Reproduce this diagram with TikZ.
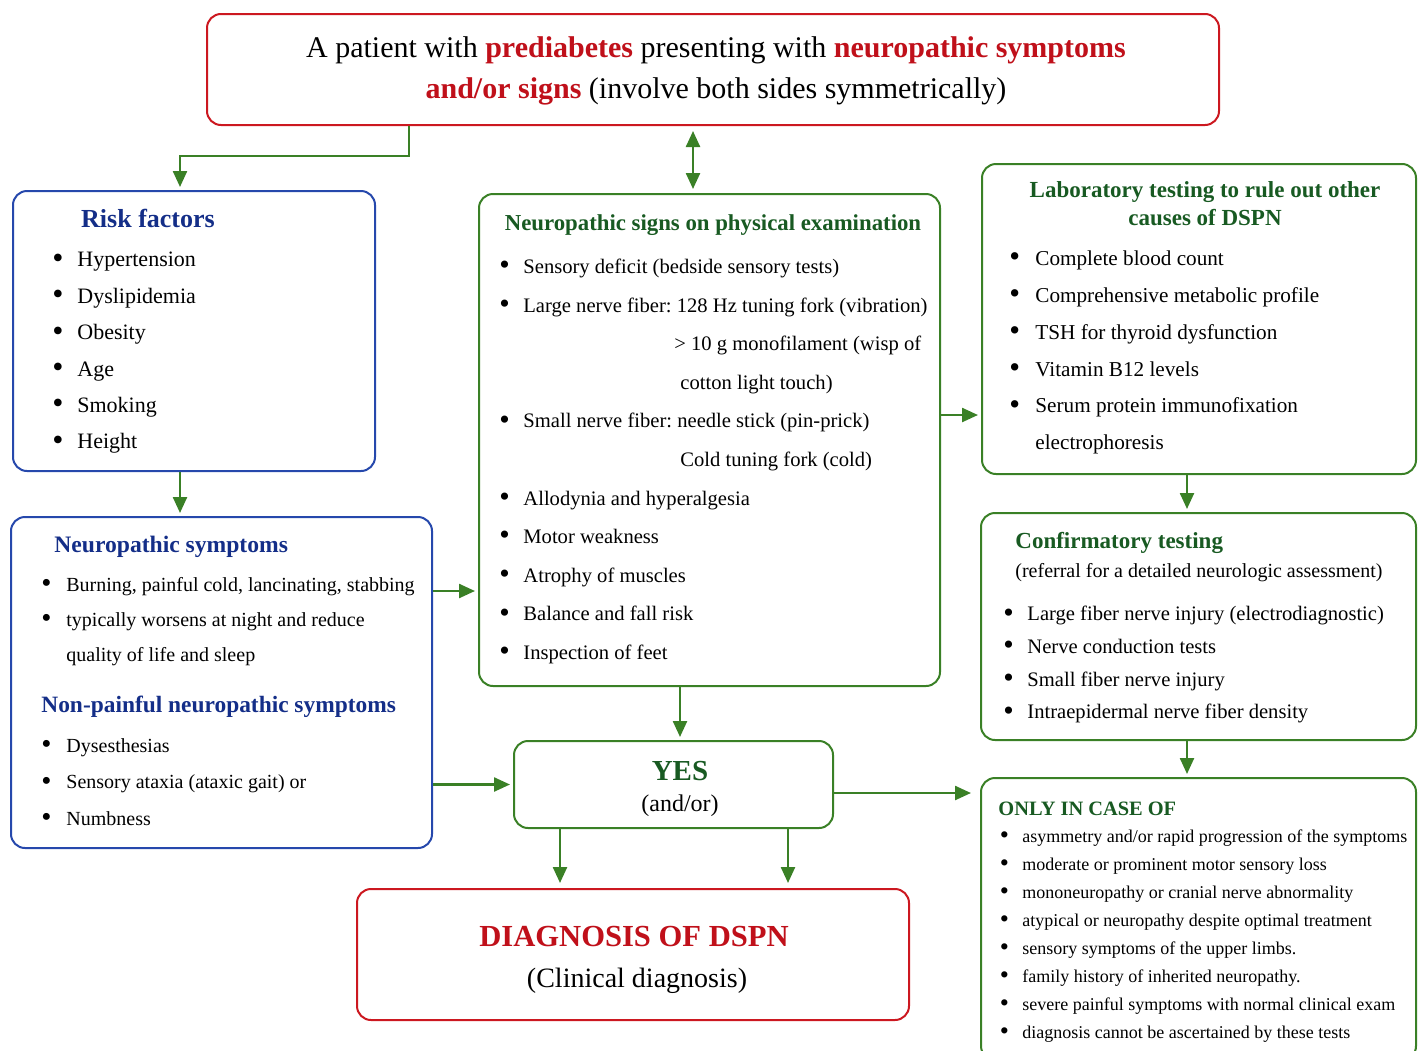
\documentclass[tikz,border=0pt]{standalone}
\usepackage{graphicx}
\usepackage{fontspec}
\setmainfont{Liberation Serif}
\usetikzlibrary{arrows.meta, positioning, calc}
\definecolor{bred}{RGB}{204,24,32}
\definecolor{tred}{RGB}{192,16,26}
\definecolor{bblue}{RGB}{38,72,172}
\definecolor{tblue}{RGB}{20,46,136}
\definecolor{bgreen}{RGB}{58,128,38}
\definecolor{tgreen}{RGB}{24,90,34}
\newcommand{\bitem}[1][12pt]{\makebox[#1][l]{\raisebox{-0.06em}{\scalebox{1.45}{\textbullet}}}}
\newcommand{\fsz}[2]{\fontsize{#1}{#2}\selectfont}
\newcommand{\hl}[1]{\textbf{\textcolor{tred}{#1}}}
\frenchspacing

\begin{document}
\begin{tikzpicture}[x=0.5pt, y=-0.5pt, >={Triangle[length=8pt,width=7pt]},
  box/.style={draw, rounded corners=7pt, line width=1pt, fill=white, inner sep=0pt},
  redbox/.style={box, draw=bred},
  bluebox/.style={box, draw=bblue},
  greenbox/.style={box, draw=bgreen},
  arr/.style={->, draw=bgreen, line width=1.2pt, shorten >=1.5pt},
  list/.style={anchor=north west, inner sep=0pt, align=left},
  head/.style={inner sep=0pt}]

  \useasboundingbox (0,0) rectangle (1418,1050);
  \clip (0,0) rectangle (1418,1050);

  % boxes
  \node[redbox,   minimum width=506pt,   minimum height=55.5pt]  (title) at (713,69.5)    {};
  \node[bluebox,  minimum width=181pt,   minimum height=140pt]   (risk)  at (194,331)     {};
  \node[bluebox,  minimum width=210.5pt, minimum height=165.5pt] (neuro) at (221.5,682.5) {};
  \node[greenbox, minimum width=230.5pt, minimum height=246pt]   (signs) at (709.5,440)   {};
  \node[greenbox, minimum width=217pt,   minimum height=155pt]   (lab)   at (1199,319)    {};
  \node[greenbox, minimum width=217.5pt, minimum height=113.5pt] (conf)  at (1198.5,626.5) {};
  \node[greenbox, minimum width=217.5pt, minimum height=141pt]   (only)  at (1198.5,919)  {};
  \node[greenbox, minimum width=159.5pt, minimum height=43.5pt]  (yes)   at (673.5,784.5) {};
  \node[redbox,   minimum width=276pt,   minimum height=65.5pt]  (diag)  at (633,954.5)   {};

  % texts
  \node[head, anchor=north, align=center, font=\fsz{15}{20.5}] (titleT) at (716,28.3)
    {\strut A patient with \hl{prediabetes} presenting with \hl{neuropathic symptoms}\\
     \hl{and/or signs} (involve both sides symmetrically)};

  \node[head, anchor=base, font=\bfseries\fsz{13}{15}, text=tblue] (riskH) at (148,227) {Risk factors};
  \node[list, font=\fsz{11}{18.2}] (riskL) at (52,241)
    {\strut\bitem[12.5pt]Hypertension\\ \bitem[12.5pt]Dyslipidemia\\ \bitem[12.5pt]Obesity\\
     \bitem[12.5pt]Age\\ \bitem[12.5pt]Smoking\\ \bitem[12.5pt]Height};

  \node[head, anchor=base west, font=\bfseries\fsz{11.8}{14}, text=tblue] (neuroH) at (54,552.4) {Neuropathic symptoms};
  \node[list, font=\fsz{10}{17.4}] (neuroL) at (41,567)
    {\strut\bitem[12.5pt]Burning, painful cold, lancinating, stabbing\\
     \bitem[12.5pt]typically worsens at night and reduce\\
     \hspace*{12.5pt}quality of life and sleep};
  \node[head, anchor=base west, font=\bfseries\fsz{11.7}{14}, text=tblue] (nonH) at (41,712.4) {Non-painful neuropathic symptoms};
  \node[list, font=\fsz{10}{18.25}] (nonL) at (41,726.5)
    {\strut\bitem[12.5pt]Dysesthesias\\ \bitem[12.5pt]Sensory ataxia (ataxic gait) or\\ \bitem[12.5pt]Numbness};

  \node[head, anchor=base, font=\bfseries\fsz{11.4}{14}, text=tgreen] (signsH) at (713,230.2) {Neuropathic signs on physical examination};
  \node[list, font=\fsz{10.3}{19.3}] (signsL) at (499,246)
    {\strut\bitem Sensory deficit (bedside sensory tests)\\
     \bitem Large nerve fiber: 128 Hz tuning fork (vibration)\\
     \hspace*{87.5pt}> 10 g monofilament (wisp of\\
     \hspace*{90.5pt}cotton light touch)\\
     \bitem Small nerve fiber: needle stick (pin-prick)\\
     \hspace*{90.5pt}Cold tuning fork (cold)\\
     \bitem Allodynia and hyperalgesia\\
     \bitem Motor weakness\\
     \bitem Atrophy of muscles\\
     \bitem Balance and fall risk\\
     \bitem Inspection of feet};

  \node[head, anchor=north, align=center, font=\bfseries\fsz{11.5}{14}, text=tgreen] (labH) at (1205,177)
    {\strut Laboratory testing to rule out other\\causes of DSPN};
  \node[list, font=\fsz{10.6}{18.4}] (labL) at (1009,239.5)
    {\strut\bitem[13pt]Complete blood count\\ \bitem[13pt]Comprehensive metabolic profile\\
     \bitem[13pt]TSH for thyroid dysfunction\\ \bitem[13pt]Vitamin B12 levels\\
     \bitem[13pt]Serum protein immunofixation\\ \hspace*{13pt}electrophoresis};

  \node[head, anchor=base west, font=\bfseries\fsz{11.5}{14}, text=tgreen] (confH) at (1015,548) {Confirmatory testing};
  \node[head, anchor=base west, font=\fsz{10}{12}] (confS) at (1015,577) {(referral for a detailed neurologic assessment)};
  \node[list, font=\fsz{10.3}{16.35}] (confL) at (1003,597.5)
    {\strut\bitem Large fiber nerve injury (electrodiagnostic)\\ \bitem Nerve conduction tests\\
     \bitem Small fiber nerve injury\\ \bitem Intraepidermal nerve fiber density};

  \node[head, anchor=base west, font=\bfseries\fsz{10.2}{12}, text=tgreen] (onlyH) at (998,815) {ONLY IN CASE OF};
  \node[list, font=\fsz{9}{13.95}] (onlyL) at (999.5,822.8)
    {\strut\bitem[11.25pt]asymmetry and/or rapid progression of the symptoms\\
     \bitem[11.25pt]moderate or prominent motor sensory loss\\
     \bitem[11.25pt]mononeuropathy or cranial nerve abnormality\\
     \bitem[11.25pt]atypical or neuropathy despite optimal treatment\\
     \bitem[11.25pt]sensory symptoms of the upper limbs.\\
     \bitem[11.25pt]family history of inherited neuropathy.\\
     \bitem[11.25pt]severe painful symptoms with normal clinical exam\\
     \bitem[11.25pt]diagnosis cannot be ascertained by these tests};

  \node[head, anchor=base, font=\bfseries\fsz{14.5}{16}, text=tgreen] (yesT) at (680,780) {YES};
  \node[head, anchor=base, font=\fsz{12}{14}] (yesS) at (680,811) {(and/or)};

  \node[head, anchor=base, font=\bfseries\fsz{15.3}{18}, text=tred] (diagT) at (634,946.5) {DIAGNOSIS OF DSPN};
  \node[head, anchor=base, font=\fsz{14}{16}] (diagS) at (637,987) {(Clinical diagnosis)};

  % connectors
  \coordinate (dbl) at ([xshift=-8.25pt]signs.north);
  \coordinate (n1)  at ([yshift=45.75pt]neuro.east);
  \coordinate (s1)  at ([yshift=12.5pt]signs.east);
  \coordinate (s2)  at ([xshift=-14.75pt]signs.south);
  \coordinate (l1)  at ([xshift=-6pt]lab.south);
  \coordinate (c1)  at ([xshift=-5.75pt]conf.south);
  \coordinate (y1)  at ([yshift=-4.25pt]yes.east);
  \coordinate (y2)  at ([xshift=-56.75pt]yes.south);
  \coordinate (y3)  at ([xshift=57.25pt]yes.south);

  \draw[arr] ([xshift=-152pt]title.south) -- ++(0,30) -| ([xshift=-7pt]risk.north);
  \draw[arr, <->, shorten <=2.5pt, shorten >=2pt] (dbl |- title.south) -- (dbl);
  \draw[arr] ([xshift=-7pt]risk.south) -- ([xshift=-7pt]risk.south |- neuro.north);
  \draw[arr] (n1) -- (n1 -| signs.west);
  \draw[arr] (neuro.east |- yes.west) -- (yes.west);
  \draw[arr] (s1) -- (s1 -| lab.west);
  \draw[arr] (s2) -- (s2 |- yes.north);
  \draw[arr] (l1) -- (l1 |- conf.north);
  \draw[arr] (c1) -- (c1 |- only.north);
  \draw[arr, shorten >=4.5pt] (y1) -- (y1 -| only.west);
  \draw[arr, shorten >=2.5pt] (y2) -- (y2 |- diag.north);
  \draw[arr, shorten >=2.5pt] (y3) -- (y3 |- diag.north);
\end{tikzpicture}
\end{document}
